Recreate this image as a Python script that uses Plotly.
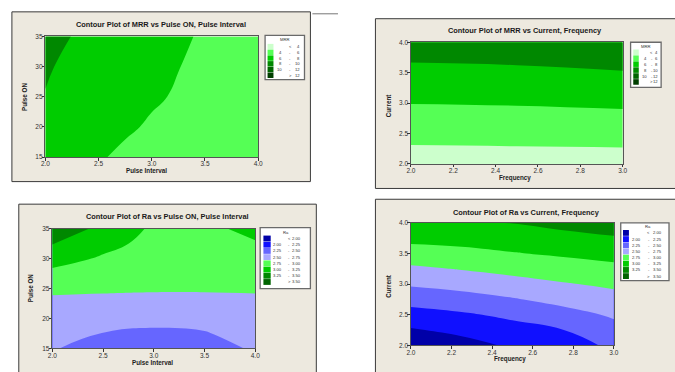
import plotly.graph_objects as go

W, H = 675, 372

# ---------------- data ----------------
# Panel 1: MRR vs Pulse ON, Pulse Interval
p1_pulse_interval = [2.0, 2.25, 2.5, 2.75, 3.0, 3.25, 3.5, 3.75, 4.0]
p1_pulse_on = [15, 20, 25, 30, 35]
p1_mrr = [
    [7.03, 6.54, 6.12, 5.76, 5.47, 5.24, 5.08, 4.98, 4.95],
    [7.51, 6.99, 6.55, 6.17, 5.86, 5.62, 5.45, 5.34, 5.31],
    [7.93, 7.37, 6.89, 6.48, 6.15, 5.89, 5.70, 5.59, 5.55],
    [8.20, 7.60, 7.09, 6.65, 6.30, 6.02, 5.82, 5.70, 5.66],
    [8.66, 7.97, 7.38, 6.87, 6.45, 6.13, 5.90, 5.76, 5.72],
]

# Panel 2: MRR vs Current, Frequency
p2_frequency = [2.0, 2.5, 3.0]
p2_current = [2.0, 2.5, 3.0, 3.5, 4.0]
p2_mrr = [
    [3.09, 3.13, 3.14],
    [4.56, 4.63, 4.73],
    [6.04, 6.13, 6.31],
    [7.51, 7.63, 7.90],
    [8.99, 9.13, 9.49],
]

# Panel 3: Ra vs Pulse ON, Pulse Interval
p3_pulse_interval = [2.0, 2.5, 3.0, 3.5, 4.0]
p3_pulse_on = [15, 17.5, 20, 22.5, 25, 27.5, 30, 32.5, 35]
p3_ra = [
    [2.51, 2.44, 2.40, 2.43, 2.52],
    [2.56, 2.497, 2.47, 2.49, 2.56],
    [2.61, 2.56, 2.55, 2.55, 2.61],
    [2.69, 2.67, 2.66, 2.66, 2.69],
    [2.80, 2.79, 2.78, 2.78, 2.78],
    [2.94, 2.88, 2.84, 2.85, 2.87],
    [3.10, 2.97, 2.89, 2.90, 2.94],
    [3.26, 3.07, 2.93, 2.92, 2.98],
    [3.43, 3.18, 2.96, 2.94, 3.07],
]

# Panel 4: Ra vs Current, Frequency
p4_frequency = [2.0, 2.25, 2.5, 2.75, 3.0]
p4_current = [2.0, 2.25, 2.5, 2.75, 3.0, 3.25, 3.5, 3.75, 4.0]
p4_ra = [
    [1.800, 1.907, 2.035, 2.130, 2.300],
    [1.976, 2.062, 2.162, 2.245, 2.422],
    [2.156, 2.216, 2.300, 2.412, 2.531],
    [2.341, 2.400, 2.479, 2.575, 2.661],
    [2.529, 2.586, 2.657, 2.731, 2.795],
    [2.709, 2.764, 2.827, 2.884, 2.937],
    [2.889, 2.932, 2.987, 3.034, 3.082],
    [3.070, 3.089, 3.125, 3.176, 3.228],
    [3.220, 3.238, 3.255, 3.318, 3.375],
]

mrr_levels = [4, 6, 8, 10, 12]
mrr_colors = ["#CCFFCC", "#55FF55", "#00CC00", "#008800", "#006400", "#003F00"]
mrr_labels = [("", "<", "4"), ("4", "-", "6"), ("6", "-", "8"),
              ("8", "-", "10"), ("10", "-", "12"), ("", ">", "12")]

ra_levels = [2.00, 2.25, 2.50, 2.75, 3.00, 3.25, 3.50]
ra_colors = ["#0000A8", "#1010FF", "#6666FF", "#A8A8FF",
             "#55FF55", "#00CC00", "#008800", "#006400"]
ra_labels = [("", "<", "2.00"), ("2.00", "-", "2.25"), ("2.25", "-", "2.50"),
             ("2.50", "-", "2.75"), ("2.75", "-", "3.00"), ("3.00", "-", "3.25"),
             ("3.25", "-", "3.50"), ("", ">", "3.50")]

titles = ["Contour Plot of MRR vs Pulse ON, Pulse Interval",
          "Contour Plot of MRR vs Current, Frequency",
          "Contour Plot of Ra vs Pulse ON, Pulse Interval",
          "Contour Plot of Ra vs Current, Frequency"]
x_titles = ["Pulse Interval", "Frequency", "Pulse Interval", "Frequency"]
y_titles = ["Pulse ON", "Current", "Pulse ON", "Current"]

FONT = "Liberation Sans"


def px(x):
    return x / W


def py(y):
    return 1 - y / H


def discrete_scale(colors):
    n = len(colors)
    cs = []
    for i, c in enumerate(colors):
        cs.append([i / n, c])
        cs.append([(i + 1) / n, c])
    return cs


fig = go.Figure()

panels = [
    dict(x=p1_pulse_interval, y=p1_pulse_on, z=p1_mrr, levels=mrr_levels, colors=mrr_colors,
         labels=mrr_labels, lt="MRR",
         area=(41, 257, 33, 156), frame=(7, 310, 8, 181),
         title_xy=(158, 21), xt_xy=(144, 170), yt_xy=(19, 95),
         xr=[2, 4], yr=[15, 35], xd=0.5, yd=5, xf=".1f", yf="d",
         leg=dict(box=(264, 304, 32, 77), tx=284, ty=36.5, sw=(266.5, 272.5), r0=43.4, dr=5.85,
                  lo=283, mid=289.5, hi=301.5)),
    dict(x=p2_frequency, y=p2_current, z=p2_mrr, levels=mrr_levels, colors=mrr_colors,
         labels=mrr_labels, lt="MRR",
         area=(412, 627, 39, 163), frame=(376, 690, 15, 188),
         title_xy=(528, 27), xt_xy=(518, 177), yt_xy=(389, 103),
         xr=[2, 3], yr=[2, 4], xd=0.2, yd=0.5, xf=".1f", yf=".1f",
         leg=dict(box=(635, 666, 39, 85), tx=651, ty=43, sw=(637.7, 643.3), r0=49.2, dr=6.05,
                  lo=653.5, mid=656.5, hi=664.5)),
    dict(x=p3_pulse_interval, y=p3_pulse_on, z=p3_ra, levels=ra_levels, colors=ra_colors,
         labels=ra_labels, lt="Ra",
         area=(48, 254, 229, 351), frame=(14, 316, 204, 380),
         title_xy=(165, 217), xt_xy=(150, 365), yt_xy=(26, 290),
         xr=[2, 4], yr=[15, 35], xd=0.5, yd=5, xf=".1f", yf="d",
         leg=dict(box=(259, 310, 228, 290), tx=285, ty=232.5, sw=(262.3, 269.7), r0=239, dr=6.33,
                  lo=283, mid=288.3, hi=302.5)),
    dict(x=p4_frequency, y=p4_current, z=p4_ra, levels=ra_levels, colors=ra_colors,
         labels=ra_labels, lt="Ra",
         area=(412, 618, 223, 348), frame=(376, 690, 199, 380),
         title_xy=(529, 212), xt_xy=(513, 362), yt_xy=(389, 287),
         xr=[2, 3], yr=[2, 4], xd=0.2, yd=0.5, xf=".1f", yf=".1f",
         leg=dict(box=(625, 674, 223, 282), tx=653, ty=227, sw=(627.3, 633.3), r0=233.3, dr=6.29,
                  lo=647.5, mid=653.3, hi=668.5)),
]

shapes = []
annotations = []
layout_axes = {}

for i, p in enumerate(panels):
    n = i + 1
    xa = "x" if n == 1 else f"x{n}"
    ya = "y" if n == 1 else f"y{n}"
    xkey = "xaxis" if n == 1 else f"xaxis{n}"
    ykey = "yaxis" if n == 1 else f"yaxis{n}"
    lv = p["levels"]
    step = lv[1] - lv[0]
    fig.add_trace(go.Contour(
        x=p["x"], y=p["y"], z=p["z"], xaxis=xa, yaxis=ya,
        colorscale=discrete_scale(p["colors"]),
        autocontour=False,
        contours=dict(start=lv[0], end=lv[-1], size=step, coloring="fill", showlines=False),
        line=dict(width=0, smoothing=1.3),
        showscale=False, hoverinfo="skip",
    ))
    x0, x1, y0, y1 = p["area"]
    axis_common = dict(showgrid=False, zeroline=False, ticks="outside", ticklen=2.5, tickwidth=1,
                       tickcolor="#333", showline=True, linecolor="#555", linewidth=1, mirror=True,
                       ticklabelstandoff=-2,
                       tickfont=dict(family=FONT, size=6.5, color="#333"))
    layout_axes[xkey] = dict(domain=[px(x0), px(x1)], anchor=ya, range=p["xr"], dtick=p["xd"],
                             tick0=p["xr"][0], tickformat=p["xf"], **axis_common)
    layout_axes[ykey] = dict(domain=[py(y1), py(y0)], anchor=xa, range=p["yr"], dtick=p["yd"],
                             tick0=p["yr"][0], tickformat=p["yf"], **axis_common)

    fx0, fx1, fy0, fy1 = p["frame"]
    shapes.append(dict(type="rect", xref="paper", yref="paper", x0=px(fx0), x1=px(fx1),
                       y0=py(fy1), y1=py(fy0), fillcolor="#EDE9DF",
                       line=dict(color="#3a3a3a", width=1), layer="below"))
    annotations.append(dict(text="<b>" + titles[i] + "</b>", x=px(p["title_xy"][0]),
                            y=py(p["title_xy"][1]),
                            xref="paper", yref="paper", showarrow=False, xanchor="center",
                            yanchor="middle", font=dict(family=FONT, size=7.4, color="#1a1a1a"),
                            ))
    annotations.append(dict(text="<b>" + x_titles[i] + "</b>", x=px(p["xt_xy"][0]), y=py(p["xt_xy"][1]),
                            xref="paper", yref="paper", showarrow=False, xanchor="center",
                            yanchor="middle", font=dict(family=FONT, size=6.3, color="#222")))
    annotations.append(dict(text="<b>" + y_titles[i] + "</b>", x=px(p["yt_xy"][0]), y=py(p["yt_xy"][1]),
                            xref="paper", yref="paper", showarrow=False, xanchor="center",
                            yanchor="middle", textangle=-90,
                            font=dict(family=FONT, size=6.3, color="#222")))

    # legend box
    lg = p["leg"]
    bx0, bx1, by0, by1 = lg["box"]
    shapes.append(dict(type="rect", xref="paper", yref="paper", x0=px(bx0), x1=px(bx1),
                       y0=py(by1), y1=py(by0), fillcolor="white",
                       line=dict(color="#6a6a6a", width=1.3), layer="above"))
    annotations.append(dict(text=p["lt"], x=px(lg["tx"]), y=py(lg["ty"]), xref="paper", yref="paper",
                            showarrow=False, xanchor="center", yanchor="middle",
                            font=dict(family=FONT, size=4.2, color="#333")))
    half = lg["dr"] * 0.47
    for k, (c, lab) in enumerate(zip(p["colors"], p["labels"])):
        cy = lg["r0"] + k * lg["dr"]
        shapes.append(dict(type="rect", xref="paper", yref="paper", x0=px(lg["sw"][0]),
                           x1=px(lg["sw"][1]), y0=py(cy + half), y1=py(cy - half),
                           fillcolor=c, line=dict(width=0), layer="above"))
        lo, mid, hi = lab
        if lo:
            annotations.append(dict(text=lo, x=px(lg["lo"]), y=py(cy), xref="paper", yref="paper",
                                    showarrow=False, xanchor="right", yanchor="middle",
                                    font=dict(family=FONT, size=4.2, color="#333")))
        annotations.append(dict(text=mid, x=px(lg["mid"]), y=py(cy), xref="paper", yref="paper",
                                showarrow=False, xanchor="center", yanchor="middle",
                                font=dict(family=FONT, size=4.2, color="#333")))
        annotations.append(dict(text=hi, x=px(lg["hi"]), y=py(cy), xref="paper", yref="paper",
                                showarrow=False, xanchor="right", yanchor="middle",
                                font=dict(family=FONT, size=4.2, color="#333")))

# small stray line at top right of the first panel
shapes.append(dict(type="line", xref="paper", yref="paper", x0=px(312), x1=px(338),
                   y0=py(10), y1=py(10), line=dict(color="#777", width=1)))

fig.update_layout(width=W, height=H, margin=dict(l=0, r=0, t=0, b=0),
                  paper_bgcolor="white", plot_bgcolor="rgba(0,0,0,0)",
                  showlegend=False, shapes=shapes, annotations=annotations,
                  font=dict(family=FONT), **layout_axes)

fig.write_html("out.html", config={"displayModeBar": False},
               post_script="document.body.style.margin='0';document.body.style.overflow='hidden';")
